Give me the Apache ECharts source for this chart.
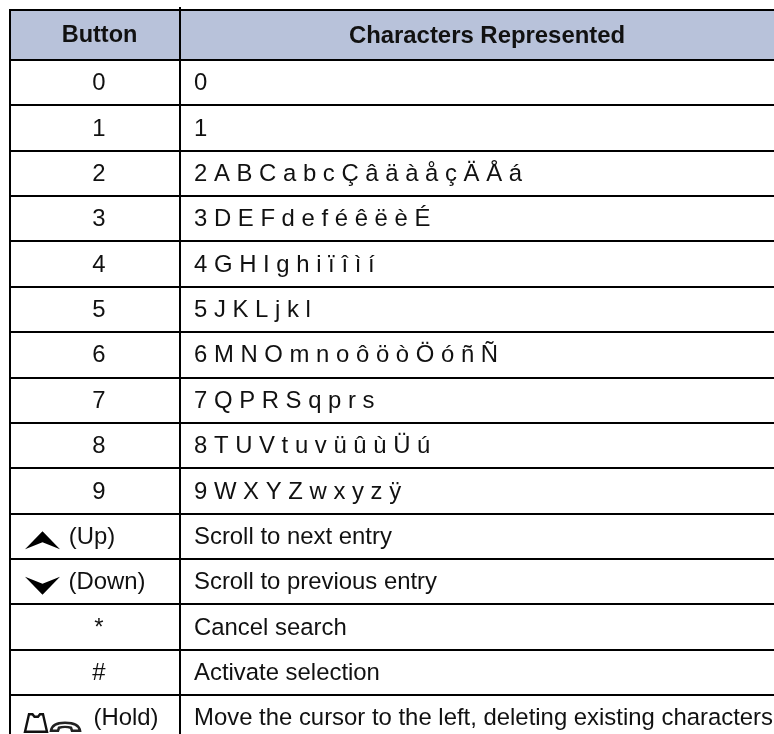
<!DOCTYPE html>
<html>
<head>
<meta charset="utf-8">
<style>html,body{margin:0;padding:0;background:#fff;overflow:hidden;height:734px}#chart{width:774px;height:742px}</style>
<script src="https://cdn.jsdelivr.net/npm/echarts@6/dist/echarts.min.js"></script>
</head>
<body>
<div id="chart"></div>
<script>
const headers = ['Button', 'Characters Represented'];
const buttons = ['0', '1', '2', '3', '4', '5', '6', '7', '8', '9', '(Up)', '(Down)', '*', '#', '(Hold)'];
const characters = [
  '0',
  '1',
  '2 A B C a b c Ç â ä à å ç Ä Å á',
  '3 D E F d e f é ê ë è É',
  '4 G H I g h i ï î ì í',
  '5 J K L j k l',
  '6 M N O m n o ô ö ò Ö ó ñ Ñ',
  '7 Q P R S q p r s',
  '8 T U V t u v ü û ù Ü ú',
  '9 W X Y Z w x y z ÿ',
  'Scroll to next entry',
  'Scroll to previous entry',
  'Cancel search',
  'Activate selection',
  'Move the cursor to the left, deleting existing characters'
];

const LINE = '#000';
const FONT = '"Liberation Sans", Arial, sans-serif';
const colLeft = 10, colMid = 180, colRight = 774, col1Center = 99, col2Text = 194;
const bodySize = 23.9, headSize = 23.5;

// button column: text x offset from the column centre
const labelShift = { '(Up)': -7, '(Down)': 8, '(Hold)': 27 };

function vline(x, y0, y1) {
  return { type: 'rect', shape: { x: x - 1, y: y0, width: 2, height: y1 - y0 }, style: { fill: LINE } };
}
function hline(x0, x1, y) {
  return { type: 'rect', shape: { x: x0, y: y - 1, width: x1 - x0, height: 2 }, style: { fill: LINE } };
}
function textEl(text, x, y, align, weight, size) {
  return { type: 'text', style: { text, x, y: y + 1, align, verticalAlign: 'middle', font: (weight || 'normal') + ' ' + (size || bodySize) + 'px ' + FONT, fill: '#111' } };
}

function rowBox(api, rowIdx) {
  const mid = api.coord([0, rowIdx])[1];
  const h = api.size([0, 1])[1];
  return { top: Math.round(mid - h / 2), bottom: Math.round(mid + h / 2), mid };
}

function buttonIcon(name, mid) {
  if (name === '(Up)') {
    return [{ type: 'path', shape: { pathData: 'M25 13 L42.5 -5 L60 13 L42.5 6 Z' }, position: [0, mid], style: { fill: '#000' } }];
  }
  if (name === '(Down)') {
    return [{ type: 'path', shape: { pathData: 'M25 -5 L42.5 2 L60 -5 L42.5 13 Z' }, position: [0, mid], style: { fill: '#000' } }];
  }
  if (name === '(Hold)') {
    return [
      { type: 'path', shape: { pathData: 'M25 14 L29 -3.5 L32.5 -3.5 L34.5 -1 L38 -1 L40 -3.5 L43 -3.5 L47 14 Z' }, position: [0, mid], style: { fill: '#fff', stroke: '#111', lineWidth: 2.4 } },
      { type: 'path', shape: { pathData: 'M51 13 C52 6 60 5 65 5 C70 5 79 6 80 13 L72 13 L71 10 C68 9 62 9 59 10 L58 13 Z' }, position: [0, mid], style: { fill: '#fff', stroke: '#222', lineWidth: 2.6 } }
    ];
  }
  return [];
}

function renderHeader(params, api) {
  const b = rowBox(api, 0);
  const left = api.coord([colLeft, 0])[0], mid = api.coord([colMid, 0])[0], right = api.coord([colRight, 0])[0];
  return { type: 'group', children: [
    { type: 'rect', shape: { x: left, y: b.top, width: right - left, height: b.bottom - b.top }, style: { fill: '#b8c2da' } },
    hline(left - 1, right, b.top),
    vline(left, b.top - 1, b.bottom),
    vline(mid, b.top - 3, b.bottom),
    textEl(headers[0], 99.5, b.mid, 'center', 'bold', headSize),
    textEl(headers[1], 487, b.mid, 'center', 'bold', bodySize)
  ] };
}

function renderRow(params, api) {
  const i = params.dataIndex;
  const b = rowBox(api, i);
  const left = api.coord([colLeft, i])[0], mid = api.coord([colMid, i])[0], right = api.coord([colRight, i])[0];
  const name = buttons[i];
  return { type: 'group', children: [
    hline(left - 1, right, b.top),
    vline(left, b.top, b.bottom),
    vline(mid, b.top, b.bottom),
    textEl(name, col1Center + (labelShift[name] || 0), b.mid, 'center'),
    textEl(characters[i], col2Text, b.mid, 'left')
  ].concat(buttonIcon(name, b.mid)) };
}

const chart = echarts.init(document.getElementById('chart'), null, { renderer: 'canvas' });
chart.setOption({
  animation: false,
  backgroundColor: '#fff',
  grid: [
    { left: 0, right: 0, top: 10, height: 50 },
    { left: 0, right: 0, top: 60, height: 680.4 }
  ],
  xAxis: [
    { type: 'value', gridIndex: 0, min: 0, max: 774, show: false },
    { type: 'value', gridIndex: 1, min: 0, max: 774, show: false }
  ],
  yAxis: [
    { type: 'category', gridIndex: 0, data: ['header'], show: false },
    { type: 'category', gridIndex: 1, inverse: true, data: buttons, show: false }
  ],
  series: [
    { type: 'custom', xAxisIndex: 0, yAxisIndex: 0, clip: false, data: [[0, 0]], renderItem: renderHeader, silent: true },
    { type: 'custom', xAxisIndex: 1, yAxisIndex: 1, clip: false, data: buttons.map((b, i) => [0, i]), renderItem: renderRow, silent: true }
  ]
});
</script>
</body>
</html>
